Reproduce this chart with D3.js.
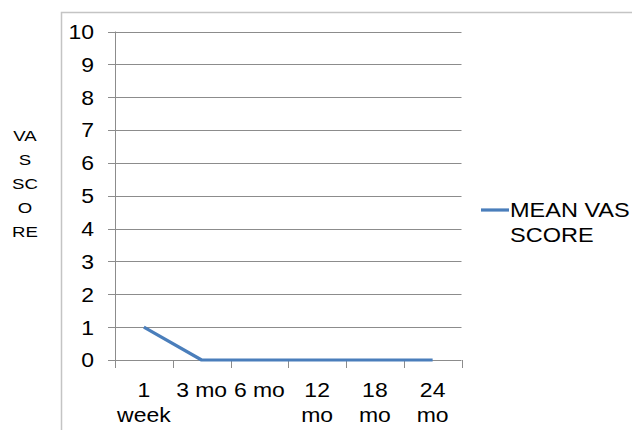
<!DOCTYPE html>
<html>
<head>
<meta charset="utf-8">
<script src="https://cdn.jsdelivr.net/npm/d3@7"></script>
<style>
  html, body { margin: 0; padding: 0; background: #fff; }
  svg { display: block; font-family: "Liberation Sans", Arial, sans-serif; }
</style>
</head>
<body>
<svg id="chart" width="632" height="430"></svg>
<script>
const categories = ["1 week", "3 mo", "6 mo", "12 mo", "18 mo", "24 mo"];
const meanVas = [1, 0, 0, 0, 0, 0];
const yTicks = [0, 1, 2, 3, 4, 5, 6, 7, 8, 9, 10];
const yTitleLines = ["VA", "S", "SC", "O", "RE"];
const seriesName = ["MEAN VAS", "SCORE"];

(function () {
const svg = d3.select("#chart");
const pLeft = 115, pRight = 461.5, pTop = 31.5, pBottom = 360;
const SX = 1.12; // horizontal text stretch seen in the reference

// outer chart border
svg.append("rect")
  .attr("x", 61.5).attr("y", 12.5)
  .attr("width", 632).attr("height", 440)
  .attr("fill", "none").attr("stroke", "#c4c4c4").attr("stroke-width", 1.5);

const x = d3.scaleBand().domain(categories).range([pLeft, pRight]);
const y = d3.scaleLinear().domain([0, 10]).range([pBottom, pTop]);

// gridlines + y tick marks
svg.append("g").selectAll("line").data(yTicks).join("line")
  .attr("x1", pLeft - 7).attr("x2", pRight)
  .attr("y1", d => Math.round(y(d)) + 0.5).attr("y2", d => Math.round(y(d)) + 0.5)
  .attr("stroke", "#8c8c8c").attr("stroke-width", 1);

// y tick labels
svg.append("g").selectAll("text").data(yTicks).join("text")
  .attr("transform", d => `translate(94,${y(d)}) scale(${SX},1)`)
  .attr("dy", "0.36em")
  .attr("text-anchor", "end").attr("font-size", 20.5).attr("fill", "#000")
  .text(d => d);

// y axis line
svg.append("line")
  .attr("x1", pLeft + 0.5).attr("x2", pLeft + 0.5)
  .attr("y1", pTop).attr("y2", pBottom + 8)
  .attr("stroke", "#8c8c8c").attr("stroke-width", 1);

// x tick marks at band boundaries
const bounds = categories.map(c => x(c) + x.bandwidth()).concat([x(categories[0])]);
svg.append("g").selectAll("line").data(bounds).join("line")
  .attr("x1", d => Math.round(d) + 0.5).attr("x2", d => Math.round(d) + 0.5)
  .attr("y1", pBottom).attr("y2", pBottom + 8)
  .attr("stroke", "#8c8c8c").attr("stroke-width", 1);

// x labels (wrapped)
const xl = svg.append("g").selectAll("text").data(categories).join("text")
  .attr("transform", d => `translate(${x(d) + x.bandwidth() / 2},${pBottom + 37}) scale(${SX},1)`)
  .attr("text-anchor", "middle").attr("font-size", 20.5).attr("fill", "#000");
xl.each(function (d) {
  const t = d3.select(this);
  t.text(d);
  if (this.getComputedTextLength() * SX > 52) {
    t.text(null);
    d.split(" ").forEach((w, i) => {
      t.append("tspan").attr("x", 0)
        .attr("dy", i === 0 ? 0 : 24.7).text(w);
    });
  }
});

// line series
const line = d3.line()
  .x((d, i) => x(categories[i]) + x.bandwidth() / 2)
  .y(d => y(d));
svg.append("path").datum(meanVas)
  .attr("d", line).attr("fill", "none")
  .attr("stroke", "#4a7ebb").attr("stroke-width", 3.2)
  .attr("stroke-linejoin", "round");

// y title
svg.append("g").selectAll("text").data(yTitleLines).join("text")
  .attr("transform", (d, i) => `translate(25,${141 + i * 24}) scale(${SX + 0.08},1)`)
  .attr("text-anchor", "middle").attr("font-size", 15.5).attr("fill", "#000")
  .text(d => d);

// legend
svg.append("line")
  .attr("x1", 481).attr("x2", 509).attr("y1", 210).attr("y2", 210)
  .attr("stroke", "#4a7ebb").attr("stroke-width", 3.2);
svg.append("g").selectAll("text").data(seriesName).join("text")
  .attr("transform", (d, i) => `translate(510,${217 + i * 25}) scale(${SX},1)`)
  .attr("font-size", 21).attr("fill", "#000")
  .text(d => d);
})();
</script>
</body>
</html>
